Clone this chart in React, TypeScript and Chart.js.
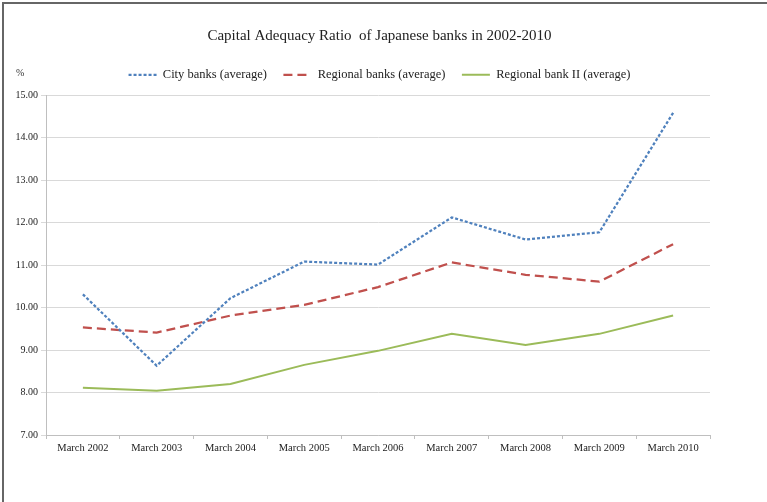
import React, { useEffect, useRef } from "react";
import { Chart, registerables } from "chart.js";

Chart.register(...registerables);

const categories = [
  "March 2002",
  "March 2003",
  "March 2004",
  "March 2005",
  "March 2006",
  "March 2007",
  "March 2008",
  "March 2009",
  "March 2010",
];
const cityBanks = [10.31, 8.63, 10.22, 11.08, 11.01, 12.12, 11.6, 11.77, 14.58];
const regionalBanks = [9.53, 9.41, 9.81, 10.06, 10.48, 11.06, 10.77, 10.61, 11.49];
const regionalBanksII = [8.11, 8.04, 8.2, 8.65, 8.98, 9.38, 9.12, 9.38, 9.81];
const seriesNames = [
  "City banks (average)",
  "Regional banks (average)",
  "Regional bank II (average)",
];
const yMin = 7;
const yMax = 15;
const yStep = 1;
const titleText = "Capital Adequacy Ratio  of Japanese banks in 2002-2010";
const unitText = "%";

const FONT = "'Liberation Serif', 'Times New Roman', serif";

export default function App() {
  const ref = useRef<HTMLCanvasElement | null>(null);

  useEffect(() => {
    const canvas = ref.current;
    if (!canvas) return;

    const unitPlugin = {
      id: "unitLabel",
      afterDraw(chart: any) {
        const ctx = chart.ctx;
        const legend = chart.legend;
        ctx.save();
        ctx.font = `10px ${FONT}`;
        ctx.fillStyle = "#333";
        ctx.textAlign = "left";
        ctx.textBaseline = "middle";
        const y =
          legend && legend.legendHitBoxes && legend.legendHitBoxes.length
            ? legend.legendHitBoxes[0].top + legend.legendHitBoxes[0].height / 2
            : 72;
        ctx.fillText(unitText, 16, y - 1);
        ctx.restore();
      },
    };

    const bgPlugin = {
      id: "bg",
      beforeDraw(chart: any) {
        const ctx = chart.ctx;
        ctx.save();
        ctx.fillStyle = "#ffffff";
        ctx.fillRect(0, 0, chart.width, chart.height);
        ctx.restore();
      },
    };

    // give the legend box some extra room below its items
    const legendGapPlugin = {
      id: "legendGap",
      beforeLayout(chart: any) {
        const lg = chart.legend;
        if (lg && !lg.__patched) {
          const orig = lg.fit.bind(lg);
          lg.fit = function () {
            orig();
            this.height += 4;
          };
          lg.__patched = true;
        }
      },
    };

    const chart = new Chart(canvas, {
      type: "line",
      data: {
        labels: categories,
        datasets: [
          {
            label: seriesNames[0],
            data: cityBanks,
            borderColor: "#4F81BD",
            backgroundColor: "#4F81BD",
            borderWidth: 2.25,
            borderDash: [3, 2],
            pointRadius: 0,
            tension: 0,
          },
          {
            label: seriesNames[1],
            data: regionalBanks,
            borderColor: "#C0504D",
            backgroundColor: "#C0504D",
            borderWidth: 2.25,
            borderDash: [9, 5],
            pointRadius: 0,
            tension: 0,
          },
          {
            label: seriesNames[2],
            data: regionalBanksII,
            borderColor: "#9BBB59",
            backgroundColor: "#9BBB59",
            borderWidth: 2,
            pointRadius: 0,
            tension: 0,
          },
        ],
      },
      options: {
        responsive: false,
        animation: false,
        layout: { padding: { left: 0, right: 8, top: 0, bottom: 0 } },
        plugins: {
          title: {
            display: true,
            text: titleText,
            color: "#222",
            font: { family: FONT, size: 15, weight: "normal" },
            padding: { top: 27, bottom: 7 },
          },
          legend: {
            display: true,
            position: "top",
            labels: {
              usePointStyle: true,
              pointStyle: "line",
              pointStyleWidth: 28,
              padding: 16.5,
              color: "#222",
              font: { family: FONT, size: 12.5 },
              generateLabels(chart: any) {
                return chart.data.datasets.map((ds: any, i: number) => ({
                  text: ds.label,
                  fillStyle: ds.borderColor,
                  strokeStyle: ds.borderColor,
                  lineWidth: ds.borderWidth,
                  lineDash: ds.borderDash || [],
                  lineCap: "butt",
                  pointStyle: "line",
                  hidden: !chart.isDatasetVisible(i),
                  datasetIndex: i,
                  fontColor: "#222",
                }));
              },
            },
          },
          tooltip: { enabled: false },
        },
        scales: {
          x: {
            type: "category",
            offset: true,
            grid: {
              display: true,
              offset: true,
              drawOnChartArea: false,
              drawTicks: true,
              tickLength: 4,
              color: "#bfbfbf",
            },
            border: { display: true, color: "#bfbfbf", width: 1 },
            ticks: {
              color: "#222",
              font: { family: FONT, size: 10.5 },
              padding: 3,
              maxRotation: 0,
              autoSkip: false,
            },
            afterFit(scale: any) {
              scale.height = 67;
            },
          },
          y: {
            type: "linear",
            position: "left",
            min: yMin,
            max: yMax,
            grid: {
              color: "#d9d9d9",
              drawTicks: true,
              tickLength: 5,
            },
            border: { display: true, color: "#bfbfbf", width: 1 },
            ticks: {
              stepSize: yStep,
              color: "#222",
              font: { family: FONT, size: 10 },
              padding: 3,
              callback: (v: any) => Number(v).toFixed(2),
            },
            afterFit(scale: any) {
              scale.width = 46;
            },
          },
          yRight: {
            type: "linear",
            position: "right",
            display: true,
            grid: { display: false, drawOnChartArea: false, drawTicks: false },
            border: { display: false },
            ticks: { display: false },
            afterFit(scale: any) {
              scale.width = 49;
            },
          },
        },
      },
      plugins: [bgPlugin, legendGapPlugin, unitPlugin],
    });

    return () => {
      chart.destroy();
    };
  }, []);

  return (
    <div
      style={{
        position: "fixed",
        left: 0,
        top: 0,
        width: 767,
        height: 502,
        background: "#fff",
        overflow: "hidden",
      }}
    >
      <canvas ref={ref} width={767} height={502} style={{ display: "block" }} />
      <div
        style={{
          position: "absolute",
          left: 2,
          top: 2,
          width: 780,
          height: 520,
          borderTop: "2px solid #666",
          borderLeft: "2px solid #666",
          pointerEvents: "none",
        }}
      />
    </div>
  );
}
